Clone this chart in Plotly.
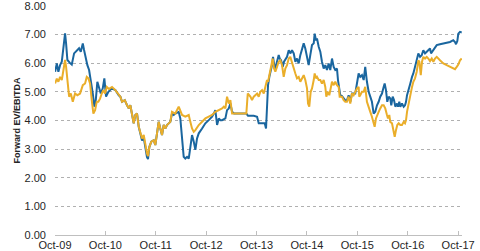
import datetime as dt
import plotly.graph_objects as go

# decimal-year timestamps and values
blue_t = [2009.750, 2009.784, 2009.815, 2009.849, 2009.883, 2009.915, 2009.948, 2009.968, 2009.994, 2010.048,
          2010.081, 2010.127, 2010.181, 2010.226, 2010.260, 2010.300, 2010.325, 2010.359, 2010.391, 2010.425,
          2010.458, 2010.498, 2010.530, 2010.558, 2010.589, 2010.623, 2010.657, 2010.696, 2010.728, 2010.762,
          2010.808, 2010.875, 2010.946, 2011.014, 2011.046, 2011.079, 2011.133, 2011.179, 2011.212, 2011.244,
          2011.278, 2011.311, 2011.343, 2011.377, 2011.411, 2011.442, 2011.476, 2011.510, 2011.542, 2011.575,
          2011.595, 2011.621, 2011.661, 2011.708, 2011.740, 2011.774, 2011.807, 2011.839, 2011.873, 2011.907,
          2011.938, 2011.972, 2012.006, 2012.038, 2012.071, 2012.105, 2012.137, 2012.204, 2012.236, 2012.270,
          2012.303, 2012.335, 2012.369, 2012.403, 2012.434, 2012.468, 2012.502, 2012.534, 2012.567, 2012.601,
          2012.667, 2012.732, 2012.799, 2012.865, 2012.899, 2012.930, 2012.964, 2012.998, 2013.030, 2013.063,
          2013.129, 2013.162, 2013.196, 2013.228, 2013.262, 2013.301, 2013.545, 2013.579, 2013.692, 2013.758,
          2013.791, 2013.857, 2013.910, 2013.936, 2013.950, 2013.976, 2014.002, 2014.022, 2014.041, 2014.055,
          2014.075, 2014.109, 2014.135, 2014.160, 2014.188, 2014.208, 2014.234, 2014.268, 2014.293, 2014.353,
          2014.387, 2014.418, 2014.452, 2014.486, 2014.518, 2014.551, 2014.585, 2014.617, 2014.650, 2014.684,
          2014.716, 2014.750, 2014.783, 2014.815, 2014.849, 2014.883, 2014.902, 2014.928, 2014.948, 2014.982,
          2015.014, 2015.047, 2015.081, 2015.113, 2015.146, 2015.180, 2015.212, 2015.246, 2015.279, 2015.311,
          2015.345, 2015.365, 2015.390, 2015.410, 2015.444, 2015.478, 2015.510, 2015.543, 2015.577, 2015.609,
          2015.643, 2015.708, 2015.742, 2015.775, 2015.807, 2015.841, 2015.875, 2015.906, 2015.940, 2015.974,
          2016.006, 2016.039, 2016.073, 2016.105, 2016.139, 2016.172, 2016.204, 2016.238, 2016.271, 2016.291,
          2016.317, 2016.343, 2016.371, 2016.402, 2016.422, 2016.450, 2016.476, 2016.502, 2016.535, 2016.555,
          2016.581, 2016.601, 2016.634, 2016.668, 2016.694, 2016.714, 2016.734, 2016.767, 2016.799, 2016.833,
          2016.859, 2016.892, 2016.926, 2016.958, 2016.992, 2017.025, 2017.057, 2017.091, 2017.125, 2017.156,
          2017.190, 2017.210, 2017.230, 2017.256, 2017.289, 2017.323, 2017.388, 2017.454, 2017.521, 2017.587,
          2017.652, 2017.686, 2017.706, 2017.732, 2017.752, 2017.785, 2017.819]
blue_v = [5.70, 5.99, 5.70, 5.93, 6.05, 6.46, 7.04, 6.69, 6.11, 6.00,
          5.95, 6.34, 6.46, 6.52, 6.40, 6.69, 6.46, 6.11, 5.93, 5.76,
          5.41, 4.94, 4.48, 4.71, 5.35, 5.18, 4.94, 5.12, 5.47, 4.83,
          5.00, 5.12, 5.06, 4.88, 4.83, 4.65, 4.71, 4.53, 4.42, 4.53,
          4.24, 3.90, 4.19, 4.24, 3.78, 3.55, 3.30, 3.40, 3.00, 2.72,
          2.65, 3.07, 3.26, 3.31, 3.14, 3.60, 3.95, 3.72, 3.49, 3.84,
          3.72, 3.84, 3.90, 3.95, 4.24, 4.19, 4.24, 4.30, 4.07, 3.49,
          2.73, 2.67, 2.73, 2.67, 3.14, 3.49, 3.26, 2.97, 3.37, 3.55,
          3.72, 3.90, 4.01, 4.13, 4.24, 4.36, 3.84, 4.07, 4.01, 4.01,
          4.07, 4.36, 4.42, 4.59, 4.30, 4.24, 4.24, 4.16, 4.16, 4.13,
          3.90, 3.90, 3.90, 3.72, 4.53, 5.23, 5.52, 5.70, 5.76, 5.93,
          6.22, 5.81, 5.93, 6.10, 6.28, 6.16, 6.10, 5.87, 6.05, 6.22,
          6.45, 6.34, 6.45, 6.34, 6.05, 6.16, 5.99, 6.28, 6.51, 6.69,
          6.51, 6.16, 5.93, 6.28, 6.63, 6.69, 7.03, 6.80, 6.86, 6.57,
          6.40, 6.05, 5.81, 5.93, 5.76, 5.99, 5.76, 6.16, 5.87, 5.76,
          5.81, 5.41, 5.17, 4.88, 4.85, 4.75, 4.70, 4.70, 4.88, 4.65,
          4.94, 4.94, 5.23, 5.64, 5.52, 5.58, 5.41, 5.87, 5.35, 5.00,
          4.83, 4.65, 4.24, 4.30, 4.53, 4.65, 4.83, 4.94, 5.17, 5.29,
          5.06, 4.65, 4.83, 4.77, 4.53, 4.83, 4.71, 4.48, 4.59, 4.48,
          4.65, 4.48, 4.59, 4.48, 4.53, 4.65, 4.88, 5.06, 5.29, 5.52,
          5.64, 5.87, 6.16, 6.34, 6.22, 6.28, 6.45, 6.34, 6.40, 6.45,
          6.51, 6.34, 6.40, 6.45, 6.57, 6.63, 6.66, 6.69, 6.72, 6.74,
          6.80, 6.74, 6.66, 6.77, 7.03, 7.09, 7.07]

gold_t = [2009.750, 2009.784, 2009.815, 2009.849, 2009.883, 2009.915, 2009.948, 2009.968, 2009.994, 2010.028,
          2010.062, 2010.101, 2010.147, 2010.192, 2010.246, 2010.300, 2010.345, 2010.379, 2010.411, 2010.444,
          2010.478, 2010.510, 2010.544, 2010.577, 2010.609, 2010.643, 2010.677, 2010.708, 2010.742, 2010.776,
          2010.821, 2010.881, 2010.946, 2011.014, 2011.046, 2011.079, 2011.133, 2011.179, 2011.212, 2011.244,
          2011.278, 2011.311, 2011.343, 2011.377, 2011.411, 2011.442, 2011.476, 2011.510, 2011.542, 2011.575,
          2011.595, 2011.621, 2011.661, 2011.708, 2011.740, 2011.774, 2011.807, 2011.839, 2011.873, 2011.907,
          2011.938, 2011.972, 2012.006, 2012.038, 2012.071, 2012.137, 2012.204, 2012.236, 2012.270, 2012.335,
          2012.403, 2012.434, 2012.468, 2012.502, 2012.534, 2012.601, 2012.667, 2012.732, 2012.799, 2012.865,
          2012.930, 2012.998, 2013.063, 2013.097, 2013.129, 2013.162, 2013.196, 2013.228, 2013.262, 2013.545,
          2013.573, 2013.625, 2013.658, 2013.692, 2013.724, 2013.758, 2013.791, 2013.823, 2013.857, 2013.891,
          2013.922, 2013.956, 2013.976, 2014.002, 2014.041, 2014.069, 2014.095, 2014.121, 2014.154, 2014.188,
          2014.220, 2014.254, 2014.287, 2014.319, 2014.353, 2014.387, 2014.418, 2014.452, 2014.486, 2014.518,
          2014.551, 2014.585, 2014.617, 2014.650, 2014.684, 2014.716, 2014.750, 2014.770, 2014.795, 2014.823,
          2014.849, 2014.883, 2014.902, 2014.928, 2014.948, 2014.982, 2015.014, 2015.047, 2015.081, 2015.113,
          2015.133, 2015.166, 2015.192, 2015.226, 2015.246, 2015.279, 2015.311, 2015.345, 2015.379, 2015.398,
          2015.444, 2015.478, 2015.510, 2015.543, 2015.577, 2015.609, 2015.643, 2015.676, 2015.708, 2015.742,
          2015.775, 2015.787, 2015.807, 2015.841, 2015.875, 2015.906, 2015.940, 2015.974, 2016.006, 2016.039,
          2016.073, 2016.093, 2016.119, 2016.139, 2016.172, 2016.204, 2016.238, 2016.271, 2016.303, 2016.337,
          2016.357, 2016.383, 2016.402, 2016.436, 2016.470, 2016.490, 2016.515, 2016.541, 2016.569, 2016.601,
          2016.634, 2016.668, 2016.694, 2016.714, 2016.734, 2016.754, 2016.779, 2016.799, 2016.833, 2016.859,
          2016.892, 2016.926, 2016.958, 2016.978, 2017.006, 2017.031, 2017.057, 2017.091, 2017.125, 2017.156,
          2017.190, 2017.224, 2017.256, 2017.289, 2017.323, 2017.388, 2017.454, 2017.521, 2017.587, 2017.652,
          2017.686, 2017.720, 2017.752, 2017.785, 2017.819]
gold_v = [5.29, 5.46, 5.35, 5.52, 5.41, 5.76, 6.11, 5.88, 5.29, 4.83,
          4.94, 4.65, 4.94, 4.88, 4.94, 5.23, 5.29, 5.52, 5.47, 5.29,
          4.71, 4.24, 4.36, 4.65, 4.65, 4.76, 4.94, 5.06, 4.94, 5.17,
          5.10, 5.17, 5.06, 4.88, 4.83, 4.65, 4.71, 4.53, 4.42, 4.53,
          4.24, 3.90, 4.19, 4.24, 3.78, 3.60, 3.37, 3.49, 3.14, 2.85,
          2.75, 3.07, 3.26, 3.31, 3.14, 3.60, 3.95, 3.72, 3.49, 3.84,
          3.72, 3.84, 3.90, 3.95, 4.30, 4.24, 4.48, 4.36, 4.19, 4.13,
          4.19, 3.95, 3.72, 3.60, 3.66, 3.84, 3.95, 4.07, 4.13, 4.19,
          4.30, 4.36, 4.42, 4.48, 4.42, 4.83, 4.59, 4.71, 4.24, 4.24,
          4.94, 4.83, 4.71, 4.83, 4.88, 4.94, 4.83, 5.00, 5.06, 4.94,
          5.17, 5.41, 5.35, 5.58, 5.93, 6.16, 5.81, 5.70, 5.87, 6.05,
          6.10, 5.93, 5.52, 5.81, 5.93, 6.16, 6.22, 5.99, 5.81, 5.64,
          5.47, 5.52, 5.35, 5.47, 5.58, 5.41, 5.12, 4.59, 4.48, 5.00,
          5.12, 5.41, 5.64, 5.47, 5.52, 5.41, 5.41, 5.29, 5.41, 5.17,
          4.83, 5.00, 4.88, 5.17, 5.35, 5.23, 5.35, 5.23, 5.17, 4.83,
          4.83, 4.71, 4.65, 4.65, 4.83, 4.59, 4.94, 4.88, 5.00, 5.12,
          5.17, 4.83, 4.88, 5.00, 5.00, 5.17, 4.65, 4.42, 4.30, 4.13,
          3.90, 3.78, 4.07, 4.19, 4.30, 4.42, 4.53, 4.53, 4.42, 4.19,
          4.07, 4.19, 3.95, 3.90, 3.60, 3.43, 3.66, 3.84, 3.90, 3.84,
          3.84, 3.95, 3.90, 4.01, 4.30, 4.48, 4.77, 5.00, 5.17, 5.35,
          5.47, 5.70, 6.10, 6.05, 5.58, 6.05, 6.22, 6.16, 6.22, 6.16,
          6.07, 6.16, 6.05, 6.16, 6.22, 6.10, 5.99, 5.93, 5.87, 5.81,
          5.79, 5.87, 5.95, 6.10, 6.16]

tick_years = list(range(2009, 2018))
y_ticks = [0, 1, 2, 3, 4, 5, 6, 7, 8]
y_title = "Forward EV/EBITDA"


def to_date(t):
    y = int(t)
    start = dt.datetime(y, 1, 1)
    days = (dt.datetime(y + 1, 1, 1) - start).days
    return start + dt.timedelta(days=(t - y) * days)


blue_x = [to_date(t) for t in blue_t]
gold_x = [to_date(t) for t in gold_t]
tick_vals = [dt.datetime(y, 10, 1) for y in tick_years]

BLUE = "#1A669F"
GOLD = "#EAAE2A"
TXT = "#262626"
GRID = "#BFBFBF"

fig = go.Figure()
fig.add_trace(go.Scatter(x=blue_x, y=blue_v, mode="lines",
                         line=dict(color=BLUE, width=2), showlegend=False))
fig.add_trace(go.Scatter(x=gold_x, y=gold_v, mode="lines",
                         line=dict(color=GOLD, width=2), showlegend=False))

fig.update_layout(
    width=480, height=251,
    margin=dict(l=55, r=18, t=5, b=16, autoexpand=False),
    paper_bgcolor="white", plot_bgcolor="white",
    font=dict(family="Liberation Sans, Arial, sans-serif", size=11, color=TXT),
    xaxis=dict(
        type="date",
        range=[dt.datetime(2009, 10, 1), to_date(2017.825)],
        tickvals=tick_vals, tickformat="%b-%y",
        showgrid=False, zeroline=False,
        showline=True, linecolor=GRID, linewidth=1,
        ticks="inside", ticklen=4, tickcolor=GRID,
        tickfont=dict(size=11, color=TXT),
    ),
    yaxis=dict(
        range=[0, 8.03], tickvals=y_ticks, tickformat=".2f",
        showgrid=True, gridcolor="#B0B0B0", griddash="dot", gridwidth=1,
        zeroline=False, showline=False, ticks="",
        ticklabelstandoff=8, ticklabeloverflow="allow",
        tickfont=dict(size=11, color=TXT),
    ),
    annotations=[dict(
        text=y_title, textangle=-90, xref="paper", yref="paper",
        x=(16.5 - 55) / 407, y=0.5, xanchor="center", yanchor="middle",
        showarrow=False, font=dict(size=9, color=TXT, weight="bold"),
    )],
)

fig.write_html("out.html")
